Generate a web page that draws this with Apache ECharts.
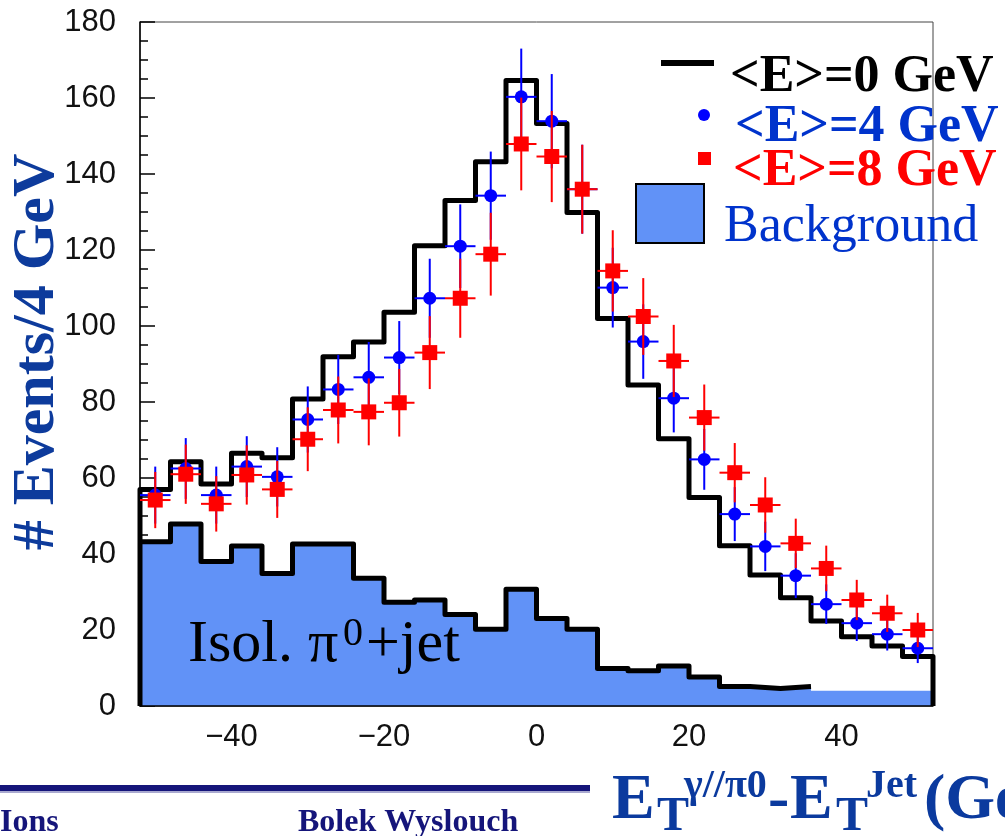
<!DOCTYPE html>
<html>
<head>
<meta charset="utf-8">
<script src="https://cdn.jsdelivr.net/npm/echarts@6/dist/echarts.min.js"></script>
<style>
  html, body { margin: 0; padding: 0; background: #fff; }
  #chart { width: 1005px; height: 836px; }
</style>
</head>
<body>
<div id="chart"></div>
<script>
// bin centres (GeV), 4 GeV bins from -52 to 52
const binCenters = [-50, -46, -42, -38, -34, -30, -26, -22, -18, -14, -10, -6, -2,
    2, 6, 10, 14, 18, 22, 26, 30, 34, 38, 42, 46, 50];
const binHalf = 2;

// <E>=0 GeV histogram
const histE0 = [57, 64.3, 58.4, 66.5, 65.3, 80.8, 91.9, 95.8, 103.6, 121.1, 133, 143.2, 164.6,
    153.3, 129.9, 102, 84.5, 70.3, 54.9, 42.2, 34.5, 28.5, 22.4, 18.2, 15.8, 13];

// background (isolated pi0 + jet); outline drawn only over the first 22 bins
const background = [43.2, 47.9, 38, 42.1, 34.9, 42.6, 42.6, 33.6, 27.3, 27.9, 24.1, 20.2, 30.7,
    23, 20.2, 9.9, 9.3, 10.5, 7.6, 5.1, 4.6, 5.1, 4, 4, 4, 4];
const bgOutlineBins = 22;

// <E>=4 GeV points
const valE4 = [55.5, 62.5, 55.5, 63, 60.3, 75.4, 83.3, 86.5, 91.7, 107.3, 121, 134.3, 160.3,
    153.9, 136, 110.1, 95.9, 81, 64.9, 50.5, 42, 34.3, 26.8, 21.8, 18.9, 15.2];
const errE4 = [7.5, 8, 7.5, 8, 7.8, 8.7, 9.1, 9.3, 9.6, 10.4, 11, 11.6, 12.7,
    12.4, 11.7, 10.5, 9.8, 9, 8, 7.1, 6.5, 5.9, 5.2, 4.7, 4.3, 3.9];

// <E>=8 GeV points
const valE8 = [54.2, 61, 53.2, 60.8, 57, 70.2, 77.9, 77.4, 79.8, 93, 107.3, 118.9, 147.9,
    144.6, 136, 114.5, 102.5, 90.8, 75.9, 61.4, 52.9, 42.8, 36.2, 27.9, 24.4, 20];
const errE8 = [7.4, 7.8, 7.3, 7.8, 7.5, 8.4, 8.8, 8.8, 8.9, 9.6, 10.4, 10.9, 12.2,
    12, 11.7, 10.7, 10.1, 9.5, 8.7, 7.8, 7.3, 6.5, 6, 5.3, 4.9, 4.5];

const xTickLabels = [-40, -20, 0, 20, 40];

const bgBlue = '#6192f7';
const serif = '"Liberation Serif", "Times New Roman", serif';

// step points: left edge of every bin, then the right edge of the last one
function stepPoints(vals, n, dropEnds) {
    const pts = [];
    if (dropEnds) pts.push([binCenters[0] - binHalf, 0]);
    for (let i = 0; i < n; i++) {
        pts.push([binCenters[i] - binHalf, vals[i]]);
    }
    pts.push([binCenters[n - 1] + binHalf, vals[n - 1]]);
    if (dropEnds) pts.push([binCenters[n - 1] + binHalf, 0]);
    return pts;
}

function errorRenderer(shape, color, size) {
    return function (params, api) {
        const x = api.value(0), y = api.value(1), e = api.value(2);
        const l = api.coord([x - binHalf, y]), r = api.coord([x + binHalf, y]);
        const t = api.coord([x, y + e]), b = api.coord([x, y - e]);
        const c = api.coord([x, y]);
        const line = { stroke: color, lineWidth: 2 };
        const marker = shape === 'circle'
            ? { type: 'circle', shape: { cx: c[0], cy: c[1], r: size / 2 }, style: { fill: color } }
            : { type: 'rect', shape: { x: c[0] - size / 2, y: c[1] - size / 2, width: size, height: size }, style: { fill: color } };
        return {
            type: 'group',
            children: [
                { type: 'line', shape: { x1: l[0], y1: l[1], x2: r[0], y2: r[1] }, style: line },
                { type: 'line', shape: { x1: t[0], y1: t[1], x2: b[0], y2: b[1] }, style: line },
                marker
            ]
        };
    };
}

const chart = echarts.init(document.getElementById('chart'));

const options = {
    animation: false,
    backgroundColor: '#fff',
    grid: {
        left: 140, right: 72, top: 22, bottom: 130,
        show: true, borderColor: '#444', borderWidth: 1
    },
    xAxis: {
        type: 'value',
        min: -52, max: 52,
        z: 5,
        axisLine: { show: true, onZero: false, lineStyle: { color: '#000', width: 1.5 } },
        axisTick: { show: false },
        splitLine: { show: false },
        axisLabel: {
            customValues: xTickLabels,
            margin: 16,
            fontSize: 31,
            fontFamily: '"Liberation Sans", Arial, sans-serif',
            color: '#111',
            formatter: v => String(v).replace('-', '\u2212')
        }
    },
    yAxis: {
        type: 'value',
        min: 0, max: 180, interval: 20,
        axisLine: { show: true, onZero: false, lineStyle: { color: '#000', width: 1.5 } },
        axisTick: { show: true, inside: true, length: 15, lineStyle: { color: '#000', width: 1.5 } },
        minorTick: { show: true, splitNumber: 4, length: 8, lineStyle: { color: '#000', width: 1.5 } },
        splitLine: { show: false },
        axisLabel: {
            margin: 24,
            fontSize: 31,
            fontFamily: '"Liberation Sans", Arial, sans-serif',
            color: '#111'
        }
    },
    series: [
        {
            name: 'Background fill',
            type: 'line',
            step: 'end',
            symbol: 'none',
            data: stepPoints(background, background.length, false),
            lineStyle: { width: 0 },
            areaStyle: { color: bgBlue, opacity: 1 },
            z: 2
        },
        {
            name: 'Background',
            type: 'line',
            step: 'end',
            symbol: 'none',
            data: stepPoints(background, bgOutlineBins, false),
            lineStyle: { color: '#000', width: 5, join: 'round' },
            z: 3
        },
        {
            name: '<E>=0 GeV',
            type: 'line',
            step: 'end',
            symbol: 'none',
            data: stepPoints(histE0, histE0.length, true),
            lineStyle: { color: '#000', width: 5, join: 'round' },
            z: 4
        },
        {
            name: '<E>=4 GeV',
            type: 'custom',
            renderItem: errorRenderer('circle', '#0000ff', 13),
            data: binCenters.map((x, i) => [x, valE4[i], errE4[i]]),
            z: 5
        },
        {
            name: '<E>=8 GeV',
            type: 'custom',
            renderItem: errorRenderer('rect', '#ff0000', 15),
            data: binCenters.map((x, i) => [x, valE8[i], errE8[i]]),
            z: 6
        }
    ],
    graphic: [
        // legend
        { type: 'line', shape: { x1: 661, y1: 63, x2: 714, y2: 63 }, style: { stroke: '#000', lineWidth: 6 }, z: 20 },
        { type: 'text', x: 730, y: 78, z: 20, style: { text: '<E>=0 GeV', font: 'bold 52px ' + serif, fill: '#000', verticalAlign: 'middle' } },
        { type: 'circle', shape: { cx: 704, cy: 115, r: 6 }, style: { fill: '#0000ff' }, z: 20 },
        { type: 'text', x: 735, y: 128, z: 20, style: { text: '<E>=4 GeV', font: 'bold 52px ' + serif, fill: '#0033cc', verticalAlign: 'middle' } },
        { type: 'rect', shape: { x: 698, y: 152, width: 13, height: 13 }, style: { fill: '#ff0000' }, z: 20 },
        { type: 'text', x: 733, y: 172, z: 20, style: { text: '<E>=8 GeV', font: 'bold 52px ' + serif, fill: '#ff0000', verticalAlign: 'middle' } },
        { type: 'rect', shape: { x: 636, y: 184, width: 68, height: 59 }, style: { fill: bgBlue, stroke: '#000', lineWidth: 2 }, z: 20 },
        { type: 'text', x: 724, y: 227, z: 20, style: { text: 'Background', font: '52px ' + serif, fill: '#0033cc', verticalAlign: 'middle' } },

        // label inside the background
        { type: 'text', x: 188, y: 645, z: 20, style: { text: 'Isol. \u03c0', font: '60px ' + serif, fill: '#000', verticalAlign: 'middle' } },
        { type: 'text', x: 343, y: 634, z: 20, style: { text: '0', font: '40px ' + serif, fill: '#000', verticalAlign: 'middle' } },
        { type: 'text', x: 366, y: 645, z: 20, style: { text: '+jet', font: '60px ' + serif, fill: '#000', verticalAlign: 'middle' } },

        // y axis title
        { type: 'text', x: 37, y: 352, rotation: Math.PI / 2, z: 20,
          style: { text: '# Events/4 GeV', font: 'bold 60px ' + serif, fill: '#0d3b9c', align: 'center', verticalAlign: 'middle' } },

        // slide footer
        { type: 'rect', shape: { x: 0, y: 785, width: 590, height: 6 }, style: { fill: '#15157a' }, z: 20 },
        { type: 'rect', shape: { x: 0, y: 791, width: 590, height: 2 }, style: { fill: '#a9a9d0' }, z: 20 },
        { type: 'text', x: 0, y: 823, z: 20, style: { text: 'Ions', font: 'bold 32px ' + serif, fill: '#15157a', verticalAlign: 'middle' } },
        { type: 'text', x: 298, y: 823, z: 20, style: { text: 'Bolek Wyslouch', font: 'bold 32px ' + serif, fill: '#15157a', verticalAlign: 'middle' } },

        // x axis title
        { type: 'text', x: 612, y: 801, z: 20, style: { text: 'E', font: 'bold 64px ' + serif, fill: '#0b3a9e', verticalAlign: 'middle' } },
        { type: 'text', x: 657, y: 818, z: 20, style: { text: 'T', font: 'bold 48px ' + serif, fill: '#0b3a9e', verticalAlign: 'middle' } },
        { type: 'text', x: 684, y: 787, z: 20, style: { text: '\u03b3//\u03c00', font: 'bold 40px ' + serif, fill: '#0b3a9e', verticalAlign: 'middle' } },
        { type: 'text', x: 768, y: 801, z: 20, style: { text: '-', font: 'bold 64px ' + serif, fill: '#0b3a9e', verticalAlign: 'middle' } },
        { type: 'text', x: 790, y: 801, z: 20, style: { text: 'E', font: 'bold 64px ' + serif, fill: '#0b3a9e', verticalAlign: 'middle' } },
        { type: 'text', x: 836, y: 818, z: 20, style: { text: 'T', font: 'bold 48px ' + serif, fill: '#0b3a9e', verticalAlign: 'middle' } },
        { type: 'text', x: 866, y: 787, z: 20, style: { text: 'Jet', font: 'bold 40px ' + serif, fill: '#0b3a9e', verticalAlign: 'middle' } },
        { type: 'text', x: 924, y: 801, z: 20, style: { text: '(GeV)', font: 'bold 64px ' + serif, fill: '#0b3a9e', verticalAlign: 'middle' } }
    ]
};

chart.setOption(options);
window.addEventListener('resize', () => chart.resize());
</script>
</body>
</html>
